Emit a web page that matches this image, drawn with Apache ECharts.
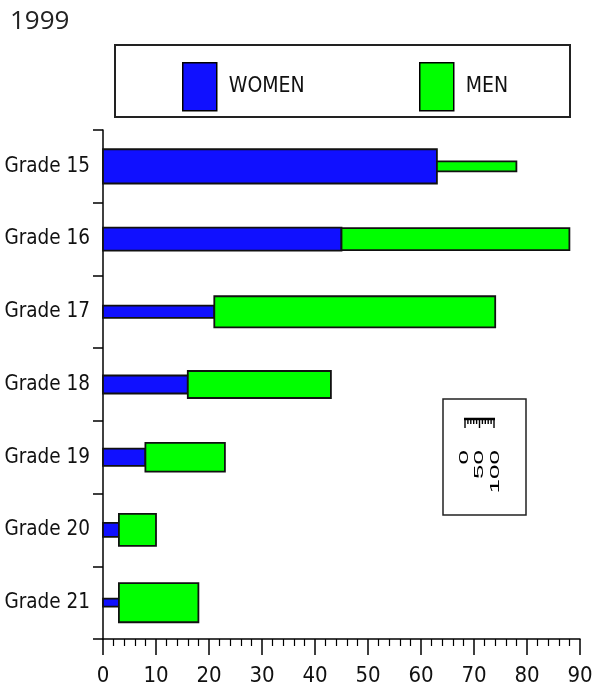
<!DOCTYPE html>
<html>
<head>
<meta charset="utf-8">
<script src="https://cdn.jsdelivr.net/npm/echarts@6/dist/echarts.min.js"></script>
<style>
  html, body { margin: 0; padding: 0; background: #fff; }
  #chart { width: 595px; height: 690px; }
</style>
</head>
<body>
<div id="chart"></div>
<script>
// ---- data ----
const title = '1999';
const categories = ['Grade 15', 'Grade 16', 'Grade 17', 'Grade 18', 'Grade 19', 'Grade 20', 'Grade 21'];
const seriesNames = ['WOMEN', 'MEN'];
const women = [63, 45, 21, 16, 8, 3, 3];
const men = [15, 43, 53, 27, 15, 7, 15];
// bar thickness values (read on the 0-100 width scale)
const womenWidth = [76, 51, 27, 40, 38, 31, 18];
const menWidth = [22, 49, 69, 60, 64, 71, 87];
const widthScaleLabels = ['0', '50', '100'];

// ---- style ----
const COND = "'DejaVu Sans Condensed', 'Liberation Sans Narrow', 'DejaVu Sans', sans-serif";
const BLUE = '#1010ff';
const GREEN = '#00ff00';
const FULL = 0.62; // fraction of the category band for width value 100

const chart = echarts.init(document.getElementById('chart'), null, { renderer: 'canvas' });

function makeRender(color) {
  return function (params, api) {
    const i = api.value(0);
    const a = api.coord([api.value(1), i]);
    const b = api.coord([api.value(2), i]);
    const band = api.size([0, 1])[1];
    const h = band * FULL * api.value(3) / 100;
    return {
      type: 'rect',
      shape: { x: a[0], y: a[1] - h / 2, width: b[0] - a[0], height: h },
      style: { fill: color, stroke: '#111', lineWidth: 1.8 }
    };
  };
}

const womenData = categories.map((c, i) => [i, 0, women[i], womenWidth[i]]);
const menData = categories.map((c, i) => [i, women[i], women[i] + men[i], menWidth[i]]);

// width-scale legend (ruler) graphics
const rulerX0 = 465, rulerX1 = 494, rulerY = 419;
const ruler = [];
ruler.push({ type: 'line', shape: { x1: rulerX0 - 1, y1: rulerY, x2: rulerX1 + 1, y2: rulerY }, style: { stroke: '#000', lineWidth: 2.5 } });
for (let k = 0; k <= 10; k++) {
  const x = rulerX0 + (rulerX1 - rulerX0) * k / 10;
  const len = (k === 0 || k === 5 || k === 10) ? 9 : 5;
  ruler.push({ type: 'line', shape: { x1: x, y1: rulerY, x2: x, y2: rulerY + len }, style: { stroke: '#000', lineWidth: 1.4 } });
}
const labelXs = [464, 479, 495];
widthScaleLabels.forEach((t, k) => {
  ruler.push({
    type: 'text', x: labelXs[k], y: 450, rotation: Math.PI / 2, scaleX: 2.0,
    style: { text: t, font: "13px 'Liberation Sans', sans-serif", fill: '#000', align: 'right', verticalAlign: 'middle' }
  });
});

const option = {
  animation: false,
  backgroundColor: '#fff',
  title: {
    text: title, left: 5, top: 4,
    textStyle: { fontFamily: "'Open Sans', sans-serif", fontSize: 26, fontWeight: 'normal', color: '#222' }
  },
  legend: [
    {
      data: [seriesNames[0]], left: 177, top: 57, itemWidth: 34, itemHeight: 48, icon: 'rect',
      itemStyle: { color: BLUE, borderColor: '#000', borderWidth: 1.5 },
      textStyle: { fontFamily: COND, fontSize: 21, color: '#111', padding: [0, 0, 0, 7] },
      selectedMode: false
    },
    {
      data: [seriesNames[1]], left: 414, top: 57, itemWidth: 34, itemHeight: 48, icon: 'rect',
      itemStyle: { color: GREEN, borderColor: '#000', borderWidth: 1.5 },
      textStyle: { fontFamily: COND, fontSize: 21, color: '#111', padding: [0, 0, 0, 7] },
      selectedMode: false
    }
  ],
  grid: { left: 103, right: 15, top: 130, bottom: 51, containLabel: false, outerBoundsMode: 'none' },
  xAxis: {
    type: 'value', min: 0, max: 90, interval: 10,
    axisLine: { show: true, lineStyle: { color: '#000', width: 1.5 } },
    axisTick: { show: true, inside: false, length: 16, lineStyle: { color: '#000', width: 1.5 } },
    minorTick: { show: true, splitNumber: 5, length: 7, lineStyle: { color: '#000', width: 1.2 } },
    splitLine: { show: false },
    axisLabel: { fontFamily: COND, fontSize: 22, color: '#111', margin: 26 }
  },
  yAxis: {
    type: 'category', data: categories, inverse: true,
    axisLine: { show: true, lineStyle: { color: '#000', width: 1.5 } },
    axisTick: { show: true, inside: false, length: 10, alignWithLabel: false, lineStyle: { color: '#000', width: 1.5 } },
    axisLabel: { fontFamily: COND, fontSize: 20.5, color: '#111', margin: 13 },
    splitLine: { show: false }
  },
  series: [
    { name: seriesNames[0], type: 'custom', renderItem: makeRender(BLUE), encode: { x: [1, 2], y: 0 }, data: womenData, itemStyle: { color: BLUE } },
    { name: seriesNames[1], type: 'custom', renderItem: makeRender(GREEN), encode: { x: [1, 2], y: 0 }, data: menData, itemStyle: { color: GREEN } }
  ],
  graphic: [
    { type: 'rect', shape: { x: 115, y: 45, width: 455, height: 72 }, style: { fill: 'none', stroke: '#222', lineWidth: 2 }, z: 0 },
    { type: 'rect', shape: { x: 443, y: 399, width: 83, height: 116 }, style: { fill: 'none', stroke: '#222', lineWidth: 1.5 } },
    ...ruler
  ]
};
chart.setOption(option);
</script>
</body>
</html>
